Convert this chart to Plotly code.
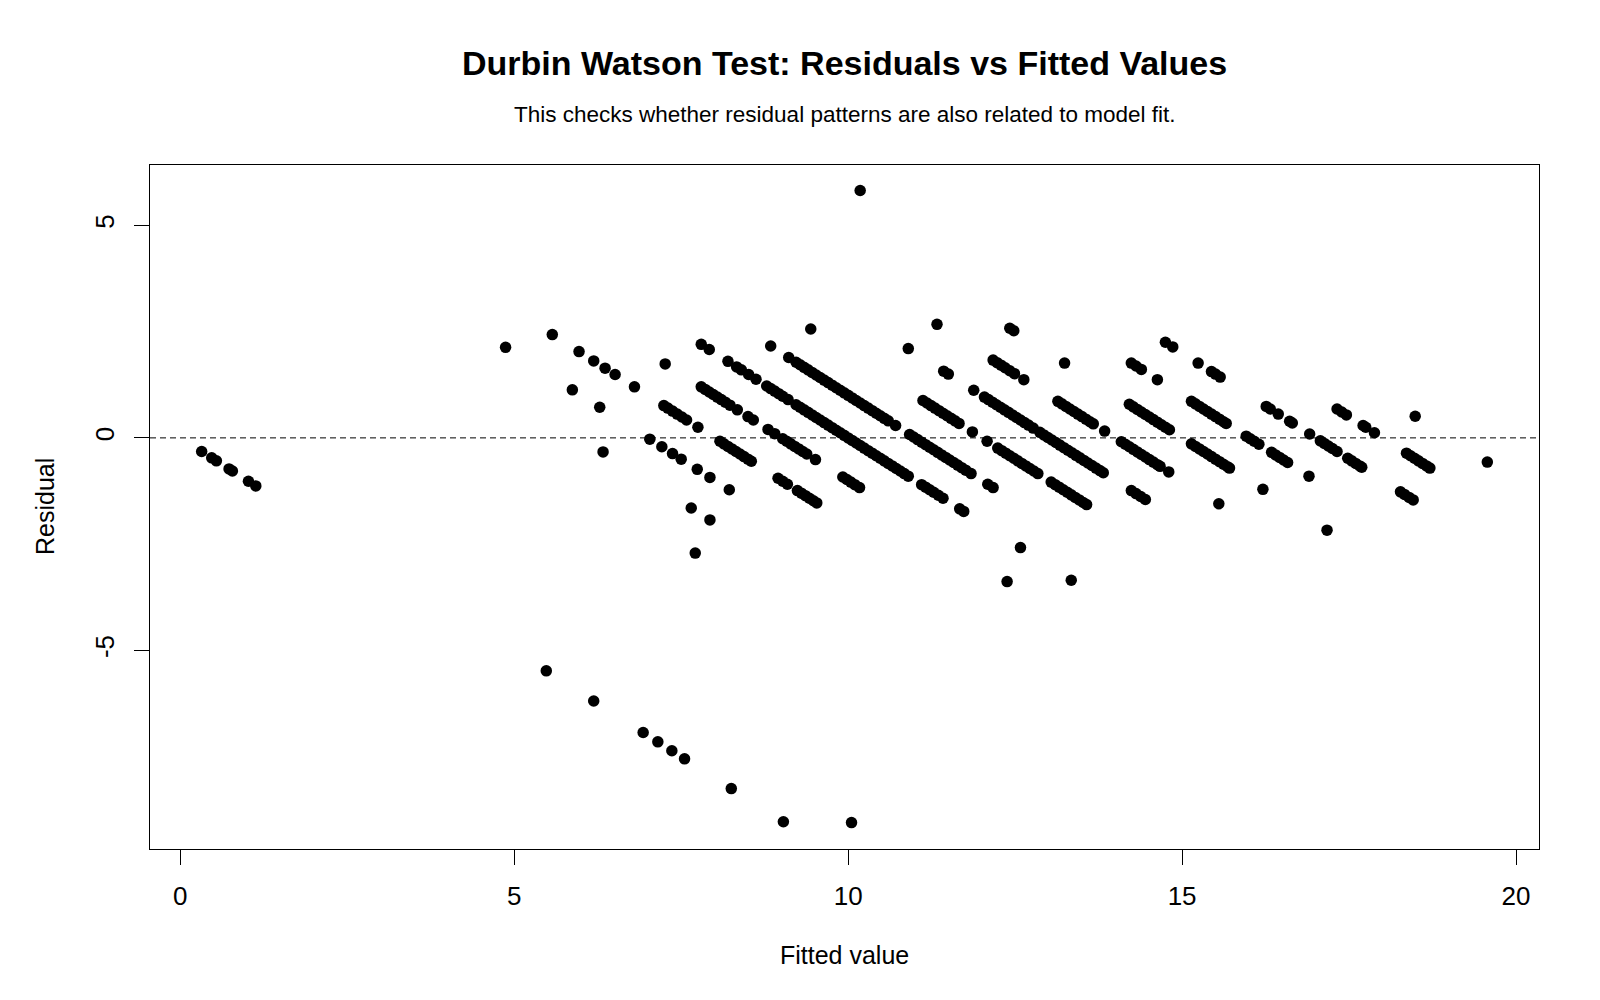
import plotly.graph_objects as go

# Fitted values (x) and residuals (y), grouped by diagonal band
fitted = [
    # band 0
    0.32, 0.47, 0.54, 0.73, 0.78, 1.02, 1.13, 5.48, 6.19, 6.93, 7.15, 7.36, 7.55, 8.25, 9.03,
    # bands 1, 5, 6
    10.05, 7.71, 6.33, 7.65, 7.93,
    # band 7
    4.87, 5.87, 6.28, 7.03, 7.21, 7.37, 7.50, 7.74, 7.93, 8.22,
    # band 8
    5.57, 5.97, 6.19, 6.36, 6.51, 6.80, 7.24, 7.30, 7.37, 7.44, 7.51, 7.58, 7.75,
    8.08, 8.14, 8.20, 8.26, 8.32, 8.38, 8.44, 8.50, 8.55,
    8.95, 9.02, 9.09, 9.24, 9.30, 9.36, 9.42, 9.48, 9.53,
    # band 9
    7.26, 7.80, 7.86, 7.92, 7.98, 8.04, 8.10, 8.16, 8.23, 8.34, 8.50, 8.58, 8.80, 8.90,
    9.02, 9.08, 9.14, 9.20, 9.26, 9.32, 9.38, 9.51, 9.92, 9.98, 10.04, 10.10, 10.17,
    12.38,
    # band 10
    7.80, 7.92, 8.20, 8.33, 8.40, 8.51, 8.62, 8.78, 8.84, 8.90, 8.96, 9.02, 9.10,
    9.22, 9.28, 9.34, 9.40, 9.46, 9.52, 9.58, 9.64, 9.70, 9.76, 9.82, 9.88, 9.94, 10.00,
    10.06, 10.12, 10.18, 10.24, 10.30, 10.36, 10.42, 10.48, 10.54, 10.60, 10.66, 10.72,
    10.78, 10.84, 10.90,
    11.10, 11.16, 11.22, 11.28, 11.35, 11.42, 11.67, 11.73, 12.58, 13.34,
    # band 11
    8.84, 9.11,
    9.22, 9.28, 9.34, 9.40, 9.46, 9.52, 9.58, 9.64, 9.70, 9.76, 9.82, 9.88, 9.94, 10.00,
    10.06, 10.12, 10.18, 10.24, 10.30, 10.36, 10.42, 10.48, 10.54, 10.60, 10.71,
    10.92, 10.98, 11.04, 11.10, 11.16, 11.22, 11.28, 11.34, 11.40, 11.46, 11.52, 11.58,
    11.64, 11.70, 11.76, 11.84,
    12.09, 12.17,
    # band 12
    9.44,
    11.12, 11.18, 11.24, 11.30, 11.36, 11.42, 11.48, 11.54, 11.60, 11.66, 11.86, 12.08,
    12.24, 12.30, 12.36, 12.42, 12.48, 12.54, 12.60, 12.66, 12.72, 12.78, 12.84,
    13.04, 13.10, 13.16, 13.22, 13.28, 13.34, 13.40, 13.46, 13.52, 13.57,
    # band 13
    10.90, 11.43, 11.50, 11.88,
    12.04, 12.10, 12.16, 12.22, 12.28, 12.34, 12.40, 12.46, 12.52, 12.58, 12.64, 12.70, 12.77,
    12.87, 12.93, 12.99, 13.05, 13.11, 13.17, 13.23, 13.29, 13.35, 13.41, 13.47, 13.53,
    13.59, 13.65, 13.71, 13.77, 13.82,
    14.24, 14.31, 14.38, 14.45,
    # band 14
    11.33, 12.17, 12.23, 12.29, 12.35, 12.42, 12.49, 12.63,
    13.14, 13.20, 13.26, 13.32, 13.38, 13.44, 13.50, 13.56, 13.62, 13.67, 13.84,
    14.09, 14.15, 14.21, 14.27, 14.33, 14.39, 14.45, 14.51, 14.57, 14.63, 14.67, 14.80,
    15.55,
    # band 15
    12.42, 12.48, 13.24,
    14.21, 14.27, 14.33, 14.39, 14.45, 14.51, 14.57, 14.63, 14.69, 14.75, 14.81,
    15.14, 15.20, 15.26, 15.32, 15.38, 15.44, 15.50, 15.56, 15.62, 15.68, 15.71,
    16.21, 17.17,
    # band 16
    10.18, 14.24, 14.31, 14.39, 14.63,
    15.14, 15.20, 15.26, 15.32, 15.38, 15.44, 15.50, 15.56, 15.62, 15.66,
    15.96, 16.02, 16.08, 16.15, 16.34, 16.40, 16.46, 16.52, 16.58, 16.90,
    # band 17
    14.75, 14.86, 15.24, 15.44, 15.50, 15.57,
    16.26, 16.32, 16.44, 16.61, 16.65, 16.91,
    17.07, 17.13, 17.19, 17.25, 17.32, 17.48, 17.54, 17.60, 17.66, 17.69,
    18.27, 18.33, 18.40, 18.46,
    # band 18
    17.32, 17.39, 17.46, 17.71, 17.75, 17.88,
    18.36, 18.42, 18.48, 18.54, 18.60, 18.66, 18.71,
    # band 19
    18.49, 19.57,
]

residual = [
    # band 0
    -0.32, -0.47, -0.54, -0.73, -0.78, -1.02, -1.13, -5.48, -6.19, -6.93, -7.15, -7.36, -7.55, -8.25, -9.03,
    # bands 1, 5, 6
    -9.05, -2.71, -0.33, -1.65, -1.93,
    # band 7
    2.13, 1.13, 0.72, -0.03, -0.21, -0.37, -0.50, -0.74, -0.93, -1.22,
    # band 8
    2.43, 2.03, 1.81, 1.64, 1.49, 1.20, 0.76, 0.70, 0.63, 0.56, 0.49, 0.42, 0.25,
    -0.08, -0.14, -0.20, -0.26, -0.32, -0.38, -0.44, -0.50, -0.55,
    -0.95, -1.02, -1.09, -1.24, -1.30, -1.36, -1.42, -1.48, -1.53,
    # band 9
    1.74, 1.20, 1.14, 1.08, 1.02, 0.96, 0.90, 0.84, 0.77, 0.66, 0.50, 0.42, 0.20, 0.10,
    -0.02, -0.08, -0.14, -0.20, -0.26, -0.32, -0.38, -0.51, -0.92, -0.98, -1.04, -1.10, -1.17,
    -3.38,
    # band 10
    2.20, 2.08, 1.80, 1.67, 1.60, 1.49, 1.38, 1.22, 1.16, 1.10, 1.04, 0.98, 0.90,
    0.78, 0.72, 0.66, 0.60, 0.54, 0.48, 0.42, 0.36, 0.30, 0.24, 0.18, 0.12, 0.06, 0.00,
    -0.06, -0.12, -0.18, -0.24, -0.30, -0.36, -0.42, -0.48, -0.54, -0.60, -0.66, -0.72,
    -0.78, -0.84, -0.90,
    -1.10, -1.16, -1.22, -1.28, -1.35, -1.42, -1.67, -1.73, -2.58, -3.35,
    # band 11
    2.16, 1.89,
    1.78, 1.72, 1.66, 1.60, 1.54, 1.48, 1.42, 1.36, 1.30, 1.24, 1.18, 1.12, 1.06, 1.00,
    0.94, 0.88, 0.82, 0.76, 0.70, 0.64, 0.58, 0.52, 0.46, 0.40, 0.29,
    0.08, 0.02, -0.04, -0.10, -0.16, -0.22, -0.28, -0.34, -0.40, -0.46, -0.52, -0.58,
    -0.64, -0.70, -0.76, -0.84,
    -1.09, -1.17,
    # band 12
    2.56,
    0.88, 0.82, 0.76, 0.70, 0.64, 0.58, 0.52, 0.46, 0.40, 0.34, 0.14, -0.08,
    -0.24, -0.30, -0.36, -0.42, -0.48, -0.54, -0.60, -0.66, -0.72, -0.78, -0.84,
    -1.04, -1.10, -1.16, -1.22, -1.28, -1.34, -1.40, -1.46, -1.52, -1.57,
    # band 13
    2.10, 1.57, 1.50, 1.12,
    0.96, 0.90, 0.84, 0.78, 0.72, 0.66, 0.60, 0.54, 0.48, 0.42, 0.36, 0.30, 0.23,
    0.13, 0.07, 0.01, -0.05, -0.11, -0.17, -0.23, -0.29, -0.35, -0.41, -0.47, -0.53,
    -0.59, -0.65, -0.71, -0.77, -0.82,
    -1.24, -1.31, -1.38, -1.45,
    # band 14
    2.67, 1.83, 1.77, 1.71, 1.65, 1.58, 1.51, 1.37,
    0.86, 0.80, 0.74, 0.68, 0.62, 0.56, 0.50, 0.44, 0.38, 0.33, 0.16,
    -0.09, -0.15, -0.21, -0.27, -0.33, -0.39, -0.45, -0.51, -0.57, -0.63, -0.67, -0.80,
    -1.55,
    # band 15
    2.58, 2.52, 1.76,
    0.79, 0.73, 0.67, 0.61, 0.55, 0.49, 0.43, 0.37, 0.31, 0.25, 0.19,
    -0.14, -0.20, -0.26, -0.32, -0.38, -0.44, -0.50, -0.56, -0.62, -0.68, -0.71,
    -1.21, -2.17,
    # band 16
    5.82, 1.76, 1.69, 1.61, 1.37,
    0.86, 0.80, 0.74, 0.68, 0.62, 0.56, 0.50, 0.44, 0.38, 0.34,
    0.04, -0.02, -0.08, -0.15, -0.34, -0.40, -0.46, -0.52, -0.58, -0.90,
    # band 17
    2.25, 2.14, 1.76, 1.56, 1.50, 1.43,
    0.74, 0.68, 0.56, 0.39, 0.35, 0.09,
    -0.07, -0.13, -0.19, -0.25, -0.32, -0.48, -0.54, -0.60, -0.66, -0.69,
    -1.27, -1.33, -1.40, -1.46,
    # band 18
    0.68, 0.61, 0.54, 0.29, 0.25, 0.12,
    -0.36, -0.42, -0.48, -0.54, -0.60, -0.66, -0.71,
    # band 19
    0.51, -0.57,
]

x_ticks = [0, 5, 10, 15, 20]
y_ticks = [-5, 0, 5]
y_tick_labels = ["-5", "0", "5"]

title_text = "Durbin Watson Test: Residuals vs Fitted Values"
subtitle_text = "This checks whether residual patterns are also related to model fit."
x_label = "Fitted value"
y_label = "Residual"

assert len(fitted) == len(residual)

FONT = "Liberation Sans, Arial, sans-serif"

fig = go.Figure()
fig.add_trace(go.Scatter(
    x=fitted, y=residual, mode="markers",
    marker=dict(color="black", size=11.5, line=dict(width=0)),
    showlegend=False, hoverinfo="x+y",
))

fig.add_shape(type="line", xref="paper", x0=0, x1=1, yref="y", y0=0, y1=0,
              line=dict(color="black", width=1, dash="6px,4px"))

fig.update_layout(
    width=1600, height=1000,
    margin=dict(l=150, r=61, t=165, b=151),
    paper_bgcolor="white", plot_bgcolor="white",
    font=dict(family=FONT, color="black"),
    xaxis=dict(
        range=[-0.454, 20.344], tickmode="array", tickvals=x_ticks,
        ticks="outside", ticklen=15, tickwidth=1, tickcolor="black",
        showline=True, linecolor="black", linewidth=1, mirror=True,
        showgrid=False, zeroline=False, tickfont=dict(size=26, family=FONT),
        ticklabelstandoff=9,
    ),
    yaxis=dict(
        range=[-9.671, 6.419], tickmode="array", tickvals=y_ticks, ticktext=y_tick_labels,
        ticks="outside", ticklen=15, tickwidth=1, tickcolor="black",
        showline=True, linecolor="black", linewidth=1, mirror=True,
        showgrid=False, zeroline=False, tickangle=-90,
        tickfont=dict(size=26, family=FONT), ticklabelstandoff=10,
    ),
    annotations=[
        dict(text="<b>" + title_text + "</b>", xref="paper", yref="paper", x=0.5, y=1 + (165 - 63) / 684,
             xanchor="center", yanchor="middle", showarrow=False, font=dict(size=34, family=FONT)),
        dict(text=subtitle_text, xref="paper", yref="paper", x=0.5, y=1 + (165 - 114) / 684,
             xanchor="center", yanchor="middle", showarrow=False, font=dict(size=22.5, family=FONT)),
        dict(text=x_label, xref="paper", yref="paper", x=0.5, y=-(955 - 849) / 684,
             xanchor="center", yanchor="middle", showarrow=False, font=dict(size=25, family=FONT)),
        dict(text=y_label, xref="paper", yref="paper", x=(45 - 150) / 1389, y=0.5, textangle=-90,
             xanchor="center", yanchor="middle", showarrow=False, font=dict(size=25, family=FONT)),
    ],
)

fig.write_html("out.html")
